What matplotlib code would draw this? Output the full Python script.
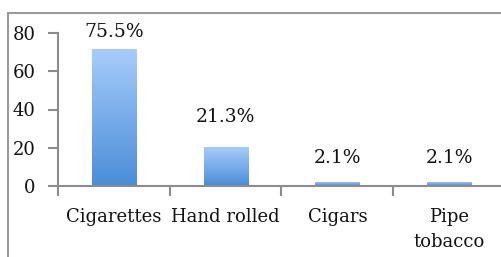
import matplotlib
matplotlib.use("Agg")
import matplotlib.pyplot as plt
import numpy as np
from matplotlib.patches import Rectangle
from matplotlib.colors import LinearSegmentedColormap

categories = ["Cigarettes", "Hand rolled", "Cigars", "Pipe\ntobacco"]
bar_values = [71.5, 20.2, 2.2, 2.2]
value_labels = ["75.5%", "21.3%", "2.1%", "2.1%"]
yticks = [0, 20, 40, 60, 80]

# layout constants (data-unit y for label centres)
label_y = [80.5, 36.0, 14.5, 14.5]

W, H = 502, 257
fig = plt.figure(figsize=(W / 100, H / 100), dpi=100)
fig.patch.set_facecolor("white")

# outer frame (extends past right/bottom edges)
frame = Rectangle((8.5 / W, -0.1), 1.2, (H - 12.5) / H + 0.1, transform=fig.transFigure,
                  fill=False, edgecolor="#9a9a9a", linewidth=1.5)
fig.patches.append(frame)

left, right, y0, ytop = 58, 505, 186, 33
ax = fig.add_axes([left / W, (H - y0) / H, (right - left) / W, (y0 - ytop) / H])
ax.set_facecolor("none")

font = "DejaVu Serif"
x = np.arange(len(categories))
bars = ax.bar(x, bar_values, width=0.395, color="none", edgecolor="none", zorder=2)
cmap = LinearSegmentedColormap.from_list("g", ["#4a8dd8", "#a7ccfb"])
grad = np.linspace(0, 1, 256).reshape(-1, 1)
for b in bars:
    bx, by, bw, bh = b.get_x(), b.get_y(), b.get_width(), b.get_height()
    im = ax.imshow(grad, extent=(bx, bx + bw, 0, max(bh, 1e-6)), origin="lower",
                   cmap=cmap, aspect="auto", zorder=2, interpolation="bilinear")
    im.set_clip_path(b)

ax.set_xlim(-0.5, len(categories) - 0.5)
ax.set_ylim(0, 80)
ax.set_aspect("auto")

for xi, lab, ly in zip(x, value_labels, label_y):
    ax.text(xi, ly, lab, ha="center", va="center", fontsize=13.5, family=font,
            color="#111111")

for s in ["top", "right"]:
    ax.spines[s].set_visible(False)
for s in ["left", "bottom"]:
    ax.spines[s].set_color("#8c8c8c")
    ax.spines[s].set_linewidth(1.5)

ax.set_yticks(yticks)
ax.set_yticklabels([str(v) for v in yticks], family=font, fontsize=13)
ax.tick_params(axis="y", length=7, width=1.5, color="#8c8c8c", pad=9, labelcolor="#111111")

ax.set_xticks(x)
ax.set_xticklabels(categories, family=font, fontsize=13, linespacing=1.5)
ax.tick_params(axis="x", which="major", length=0, pad=16, labelcolor="#111111")
ax.set_xticks(np.arange(-0.5, len(categories)), minor=True)
ax.tick_params(axis="x", which="minor", length=7, width=1.5, color="#8c8c8c")
for t in ax.get_xticklabels():
    t.set_verticalalignment("top")

fig.savefig("out.png", dpi=100)
